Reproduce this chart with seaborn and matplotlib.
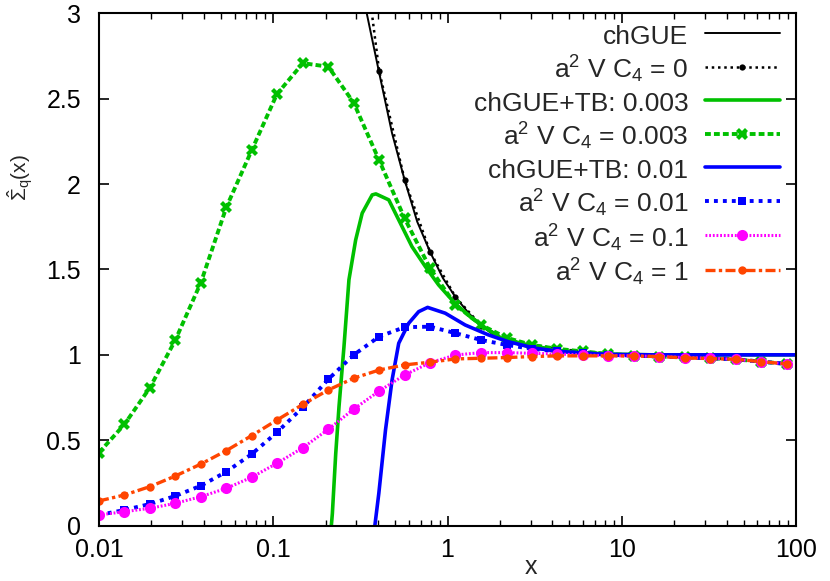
import numpy as np
import pandas as pd
import seaborn as sns
import matplotlib.pyplot as plt
from matplotlib.ticker import FixedLocator, FixedFormatter

# x grid of the simulated points (same for every a^2 V C4 series)
x_pts = [0.01, 0.014, 0.0196, 0.0274, 0.0384, 0.0538, 0.0753, 0.105, 0.148, 0.207,
         0.289, 0.405, 0.567, 0.794, 1.11, 1.56, 2.18, 3.05, 4.27, 5.98,
         8.37, 11.7, 16.4, 23.0, 32.1, 45.0, 63.0, 88.2]

nan = np.nan
y_c4_0 = [nan, nan, nan, nan, nan, nan, nan, nan, nan, nan,
          3.85, 2.664, 2.025, 1.603, 1.339, 1.171, 1.09, 1.06, 1.035, 1.02,
          1.005, 0.996, 0.99, 0.985, 0.98, 0.974, 0.96, 0.947]
y_c4_0003 = [0.427, 0.593, 0.808, 1.086, 1.423, 1.865, 2.20, 2.528, 2.709, 2.688,
             2.478, 2.14, 1.80, 1.507, 1.292, 1.175, 1.10, 1.058, 1.035, 1.02,
             1.005, 0.996, 0.99, 0.985, 0.98, 0.974, 0.96, 0.947]
y_c4_001 = [0.062, 0.091, 0.126, 0.173, 0.233, 0.315, 0.419, 0.546, 0.693, 0.857,
            0.999, 1.107, 1.162, 1.165, 1.127, 1.087, 1.058, 1.035, 1.02, 1.01,
            1.0, 0.996, 0.99, 0.985, 0.98, 0.974, 0.96, 0.947]
y_c4_01 = [0.062, 0.081, 0.101, 0.130, 0.169, 0.218, 0.283, 0.365, 0.456, 0.564,
           0.681, 0.788, 0.882, 0.954, 0.999, 1.013, 1.013, 1.009, 1.005, 0.999,
           0.995, 0.994, 0.99, 0.984, 0.98, 0.974, 0.96, 0.947]
y_c4_1 = [0.144, 0.179, 0.228, 0.29, 0.36, 0.439, 0.527, 0.618, 0.71, 0.794,
          0.863, 0.911, 0.941, 0.957, 0.976, 0.98, 0.984, 0.99, 0.994, 0.994,
          0.994, 0.993, 0.99, 0.982, 0.978, 0.974, 0.96, 0.947]

# analytic curves
chgue_x = [0.32, 0.344, 0.403, 0.48, 0.567, 0.67, 0.794, 0.94, 1.11, 1.32, 1.56,
           1.85, 2.18, 3.05, 4.27, 6.0, 8.4, 12.0, 100.0]
chgue_y = [3.17, 3.0, 2.664, 2.30, 2.025, 1.78, 1.603, 1.45, 1.339, 1.245, 1.171,
           1.115, 1.08, 1.039, 1.02, 1.008, 1.003, 1.0, 1.0]

tb003_x = [0.212, 0.2154, 0.2183, 0.2282, 0.2383, 0.2545, 0.2718, 0.297, 0.3238, 0.3694,
           0.388, 0.46, 0.525, 0.625, 0.746, 0.888, 1.107, 1.377, 1.715, 2.043,
           2.904, 4.125, 6.0, 9.0, 15.0, 100.0]
tb003_y = [-0.1, 0.0, 0.07, 0.42, 0.696, 1.048, 1.44, 1.673, 1.83, 1.937,
           1.943, 1.908, 1.79, 1.634, 1.517, 1.41, 1.30, 1.215, 1.146, 1.097,
           1.058, 1.029, 1.012, 1.004, 1.0, 1.0]

tb01_x = [0.378, 0.3828, 0.4034, 0.4406, 0.4806, 0.5248, 0.5985, 0.6829, 0.7686, 0.97,
          1.262, 1.715, 2.232, 3.17, 4.5, 7.3, 9.5, 15.0, 100.0]
tb01_y = [-0.05, 0.0, 0.189, 0.56, 0.853, 1.068, 1.185, 1.253, 1.278, 1.244,
          1.175, 1.117, 1.077, 1.039, 1.019, 1.005, 1.002, 1.0, 1.0]

xtick_vals = [0.01, 0.1, 1, 10, 100]
xtick_labels = ["0.01", "0.1", "1", "10", "100"]
ytick_vals = [0, 0.5, 1, 1.5, 2, 2.5, 3]
ytick_labels = ["0", "0.5", "1", "1.5", "2", "2.5", "3"]

GREEN = "#00c000"
BLUE = "#0000ff"
MAGENTA = "#ff00ff"
ORANGE = "#ff4500"

sns.set_theme(style="ticks")
plt.rcParams['font.family'] = ['Liberation Sans', 'DejaVu Sans']
plt.rcParams['mathtext.fontset'] = 'custom'
plt.rcParams['mathtext.rm'] = 'Liberation Sans'
plt.rcParams['mathtext.it'] = 'Liberation Sans:italic'
plt.rcParams['mathtext.bf'] = 'Liberation Sans:bold'

fig = plt.figure(figsize=(8.3, 5.81), dpi=100)
ax = fig.add_axes([0.1193, 0.0955, 0.8398, 0.8813])


def sim(y):
    d = pd.DataFrame({"x": x_pts, "y": y}).dropna()
    return d


lab = lambda v: r"a$^{2}$ V C$_{4}$ = " + v

sns.lineplot(x=chgue_x, y=chgue_y, ax=ax, color="black", lw=1.4, sort=False,
             label="chGUE")
sns.lineplot(data=sim(y_c4_0), x="x", y="y", ax=ax, color="black", lw=1.8,
             linestyle=(0, (1, 1.5)), marker="o", markersize=4.5, markeredgewidth=0,
             label=lab("0"))
sns.lineplot(x=tb003_x, y=tb003_y, ax=ax, color=GREEN, lw=2.6, sort=False,
             label="chGUE+TB: 0.003")
sns.lineplot(data=sim(y_c4_0003), x="x", y="y", ax=ax, color=GREEN, lw=2.8,
             linestyle=(0, (1.5, 0.8)), marker="X", markersize=8, markeredgewidth=0,
             label=lab("0.003"))
sns.lineplot(x=tb01_x, y=tb01_y, ax=ax, color=BLUE, lw=2.6, sort=False,
             label="chGUE+TB: 0.01")
sns.lineplot(data=sim(y_c4_001), x="x", y="y", ax=ax, color=BLUE, lw=2.8,
             linestyle=(0, (1, 1.3)), marker="s", markersize=5.5, markeredgewidth=0,
             label=lab("0.01"))
sns.lineplot(data=sim(y_c4_01), x="x", y="y", ax=ax, color=MAGENTA, lw=2.2,
             linestyle=(0, (0.6, 0.6)), marker="o", markersize=8, markeredgewidth=0,
             label=lab("0.1"))
sns.lineplot(data=sim(y_c4_1), x="x", y="y", ax=ax, color=ORANGE, lw=2.4,
             linestyle=(0, (3, 1, 1, 1)), marker="o", markersize=6, markeredgewidth=0,
             label=lab("1"))

ax.set_xscale("log")
ax.set_xlim(0.01, 100)
ax.set_ylim(0, 3)
ax.xaxis.set_major_locator(FixedLocator(xtick_vals))
ax.xaxis.set_major_formatter(FixedFormatter(xtick_labels))
ax.yaxis.set_major_locator(FixedLocator(ytick_vals))
ax.yaxis.set_major_formatter(FixedFormatter(ytick_labels))

ax.tick_params(which="both", direction="in", top=True, right=True, colors="black",
               labelsize=18)
ax.tick_params(which="major", length=7, width=1.2)
ax.tick_params(which="minor", length=4, width=1.0)
ax.tick_params(axis="x", which="major", pad=9)
ax.tick_params(axis="y", which="major", pad=13)
for s in ax.spines.values():
    s.set_color("black")
    s.set_linewidth(1.5)

ax.set_xlabel("x", fontsize=18)
ax.xaxis.set_label_coords(0.62, -0.058)
ax.set_ylabel(r"$\hat{\Sigma}_{\mathrm{q}}(\mathrm{x})$", fontsize=15)
ax.yaxis.set_label_coords(-0.09, 0.68)

h, l = ax.get_legend_handles_labels()
ax.legend(h, l, loc="upper right", bbox_to_anchor=(0.977, 0.985), frameon=False,
          markerfirst=False, fontsize=19, handlelength=2.85, handletextpad=0.62,
          handleheight=1.3, labelspacing=0.13, borderpad=0, borderaxespad=0)

fig.savefig("out.png", dpi=100)
